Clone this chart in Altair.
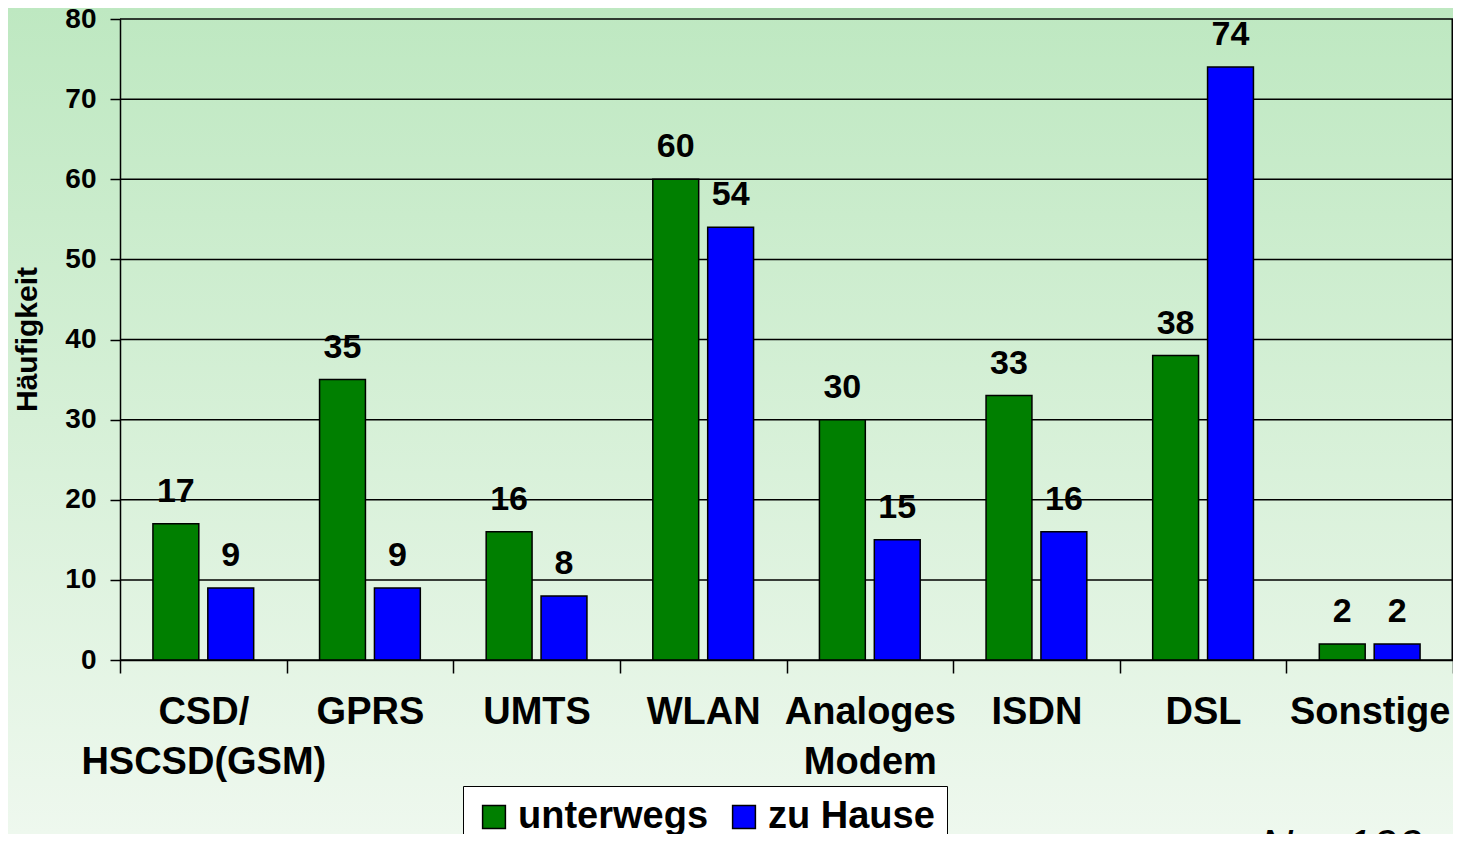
import altair as alt
import pandas as pd

categories = ["CSD/|HSCSD(GSM)", "GPRS", "UMTS", "WLAN", "Analoges|Modem", "ISDN", "DSL", "Sonstige"]
series = ["unterwegs", "zu Hause"]
unterwegs = [17, 35, 16, 60, 30, 33, 38, 2]
zu_hause = [9, 9, 8, 54, 15, 16, 74, 2]
y_ticks = [0, 10, 20, 30, 40, 50, 60, 70, 80]
colors = ["#007F00", "#0000FF"]

rows = []
for c, a, b in zip(categories, unterwegs, zu_hause):
    rows.append({"Kategorie": c, "Serie": series[0], "Wert": a})
    rows.append({"Kategorie": c, "Serie": series[1], "Wert": b})
df = pd.DataFrame(rows)
grid_df = pd.DataFrame({"v": y_ticks})

W, H = 1333, 641
FONT = "Liberation Sans"

x_enc = alt.X("Kategorie:N", sort=categories, title=None,
              scale=alt.Scale(paddingInner=0, paddingOuter=0),
              axis=alt.Axis(labelAngle=0, labelFontSize=38, labelFontWeight="bold", labelFont=FONT,
                            labelColor="black", tickSize=13, tickColor="black", tickWidth=1.5,
                            domainColor="black", domainWidth=1.5, tickBand="extent",
                            labelPadding=20, labelOverlap=False, labelBound=False, labelLimit=0,
                            labelExpr="split(datum.label, '|')", labelLineHeight=50,
                            labelBaseline="top", zindex=1))
xo_enc = alt.XOffset("Serie:N", sort=series,
                     scale=alt.Scale(paddingInner=0.164, paddingOuter=0.6))
y_scale = alt.Scale(domain=[0, 80], nice=False)
y_enc = alt.Y("Wert:Q", scale=y_scale, title="Häufigkeit",
              axis=alt.Axis(values=y_ticks, grid=False, labelFontSize=28, labelFontWeight="bold",
                            labelFont=FONT, labelColor="black", tickSize=10, tickColor="black",
                            tickWidth=1.5, domainColor="black", domainWidth=1.5, labelPadding=14,
                            titleFontSize=30, titleFont=FONT, titleFontWeight="bold",
                            titleColor="black", titleX=-93, titleY=320, titleAngle=270,
                            titleBaseline="middle", titleAlign="center", zindex=1))

bg = alt.Chart(alt.Data(values=[{}])).mark_rect(
    fill=alt.Gradient(gradient="linear", x1=0, y1=0, x2=0, y2=1,
                      stops=[alt.GradientStop(color="#BEE8C1", offset=0),
                             alt.GradientStop(color="#D6F0D7", offset=0.5),
                             alt.GradientStop(color="#EEF8EE", offset=1)])
).encode(x=alt.value(-112), x2=alt.value(W), y=alt.value(-11), y2=alt.value(H + 174))

grid = alt.Chart(grid_df).mark_rule(color="black", strokeWidth=1.5).encode(
    y=alt.Y("v:Q", scale=y_scale)
)

frame = alt.Chart(alt.Data(values=[{}])).mark_rule(color="black", strokeWidth=1.5).encode(
    x=alt.value(W - 0.75), y=alt.value(0), y2=alt.value(H)
)

bars = alt.Chart(df).mark_bar(stroke="black", strokeWidth=1.5).encode(
    x=x_enc, xOffset=xo_enc, y=y_enc,
    color=alt.Color("Serie:N", scale=alt.Scale(domain=series, range=colors),
                    legend=alt.Legend(title=None, orient="none", legendX=343, legendY=767,
                                      direction="horizontal", columns=2,
                                      symbolType="square", symbolSize=520,
                                      symbolStrokeColor="black", symbolStrokeWidth=1.5,
                                      symbolOpacity=1,
                                      labelFontSize=38, labelFontWeight="bold", labelFont=FONT,
                                      labelColor="black", labelOffset=5, labelLimit=400,
                                      columnPadding=16, padding=12,
                                      fillColor="white", strokeColor="black"))
)

labels = alt.Chart(df).mark_text(fontSize=34, fontWeight="bold", font=FONT, color="black",
                                 baseline="alphabetic", dy=-22).encode(
    x=alt.X("Kategorie:N", sort=categories), xOffset=alt.XOffset("Serie:N", sort=series),
    y=alt.Y("Wert:Q", scale=y_scale), text="Wert:Q"
)

note = alt.Chart(alt.Data(values=[{}])).mark_text(
    text="N = 100", fontSize=46, fontStyle="italic", font=FONT, color="black",
    align="left", baseline="alphabetic"
).encode(x=alt.value(1140), y=alt.value(843))

chart = alt.layer(bg, grid, bars, labels, frame, note).properties(
    width=W, height=H,
    autosize=alt.AutoSizeParams(type="none"),
    padding={"left": 112, "top": 11, "right": 0, "bottom": 174},
    background="#EEF8EE",
).configure_view(strokeWidth=0)

chart.save("out.html", embed_options={"renderer": "svg", "actions": False})
